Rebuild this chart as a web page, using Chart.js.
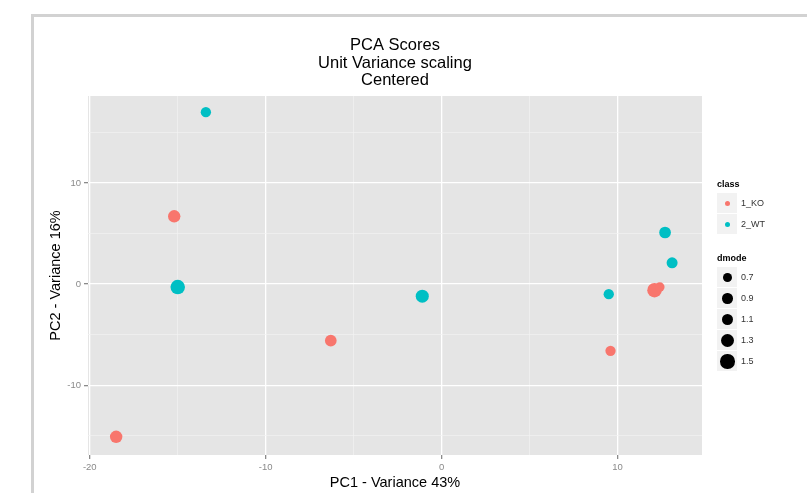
<!DOCTYPE html>
<html>
<head>
<meta charset="utf-8">
<script src="https://cdn.jsdelivr.net/npm/chart.js@4.4.0/dist/chart.umd.min.js"></script>
<style>
    body { margin: 0; background: #fff; font-family: "Liberation Sans", Arial, sans-serif; }
    #wrap { position: relative; width: 807px; height: 493px; overflow: hidden; }
    #frame { position: absolute; left: 31px; top: 14px; width: 800px; height: 500px;
             border-top: 3px solid #d2d2d2; border-left: 3px solid #d2d2d2; }
    canvas { position: absolute; left: 0; top: 0; }
    #legend { position: absolute; left: 717px; top: 179px; font-size: 9px; color: #333; }
    .ltitle { font-weight: bold; color: #000; height: 14px; }
    .item { position: relative; height: 21px; }
    .key { position: absolute; left: 0; top: 0; width: 20px; height: 20px; background: #f2f2f2; }
    .dot { position: absolute; border-radius: 50%; }
    .lab { position: absolute; left: 24px; top: 5px; }
</style>
</head>
<body>
<div id="wrap">
    <div id="frame"></div>
    <canvas id="pcaChart" width="807" height="493"></canvas>
    <div id="legend"></div>
</div>
<script>
// Datos
const classes = ["1_KO", "2_WT"];
const classColors = ["#F8766D", "#00BFC4"];

const koPC1 = [-18.5, -15.2, -6.3, 9.6, 12.1, 12.4];
const koPC2 = [-15.1, 6.7, -5.6, -6.6, -0.6, -0.3];
const koDmode = [1.2, 1.2, 1.1, 0.9, 1.5, 0.8];

const wtPC1 = [-13.4, -15.0, -1.1, 9.5, 12.7, 13.1];
const wtPC2 = [17.0, -0.3, -1.2, -1.0, 5.1, 2.1];
const wtDmode = [0.9, 1.5, 1.3, 0.9, 1.1, 1.0];

const dmodeBreaks = [0.7, 0.9, 1.1, 1.3, 1.5];
const xTickLabels = [-20, -10, 0, 10];
const yTickLabels = [-10, 0, 10];

function radio(d) { return 2 + 3.5 * d; }

function puntos(xs, ys) {
    return xs.map((x, i) => ({ x: x, y: ys[i] }));
}

// Fondo gris del panel
const panelBg = {
    id: "panelBg",
    beforeDraw(chart) {
        const { ctx, chartArea: a } = chart;
        ctx.save();
        ctx.fillStyle = "#e5e5e5";
        ctx.fillRect(a.left, a.top, a.right - a.left, a.bottom - a.top);
        ctx.restore();
    }
};

function gridColor(c) {
    return c.tick && c.tick.value % 10 === 0 ? "#ffffff" : "#f2f2f2";
}
function gridWidth(c) {
    return c.tick && c.tick.value % 10 === 0 ? 1.3 : 0.7;
}
function tickColor(c) {
    return c.tick && c.tick.value % 10 === 0 ? "#8a8a8a" : "rgba(0,0,0,0)";
}

const fuente = "'Liberation Sans', Arial, sans-serif";

new Chart(document.getElementById("pcaChart").getContext("2d"), {
    type: "scatter",
    data: {
        datasets: [{
            label: classes[0],
            data: puntos(koPC1, koPC2),
            backgroundColor: classColors[0],
            borderWidth: 0,
            pointRadius: c => radio(koDmode[c.dataIndex])
        }, {
            label: classes[1],
            data: puntos(wtPC1, wtPC2),
            backgroundColor: classColors[1],
            borderWidth: 0,
            pointRadius: c => radio(wtDmode[c.dataIndex])
        }]
    },
    plugins: [panelBg],
    options: {
        responsive: false,
        animation: false,
        layout: { padding: { left: 34, right: 105, top: 22, bottom: 1 } },
        plugins: {
            legend: { display: false },
            tooltip: { enabled: false },
            title: {
                display: true,
                fullSize: false,
                text: ["PCA Scores", "Unit Variance scaling", "Centered"],
                color: "#000",
                font: { family: fuente, size: 16.5, weight: "normal", lineHeight: 1.05 },
                padding: { top: 15, bottom: 7 }
            }
        },
        scales: {
            x: {
                min: -20.1,
                max: 14.8,
                border: { display: false },
                grid: { color: gridColor, lineWidth: gridWidth, tickColor: tickColor, tickLength: 4 },
                ticks: {
                    stepSize: 5,
                    includeBounds: false,
                    maxRotation: 0,
                    autoSkip: false,
                    padding: 3,
                    color: "#8a8a8a",
                    font: { family: fuente, size: 9.5 },
                    callback: v => xTickLabels.includes(v) ? String(v) : ""
                },
                title: {
                    display: true,
                    text: "PC1 - Variance 43%",
                    color: "#000",
                    font: { family: fuente, size: 14.5 },
                    padding: { top: 0, bottom: 0 }
                },
                afterFit: s => { s.height = 37; }
            },
            y: {
                min: -16.9,
                max: 18.6,
                border: { display: false },
                grid: { color: gridColor, lineWidth: gridWidth, tickColor: tickColor, tickLength: 4 },
                ticks: {
                    stepSize: 5,
                    includeBounds: false,
                    autoSkip: false,
                    padding: 3,
                    color: "#8a8a8a",
                    font: { family: fuente, size: 9.5 },
                    callback: v => yTickLabels.includes(v) ? String(v) : ""
                },
                title: {
                    display: true,
                    text: "PC2 - Variance 16%",
                    color: "#000",
                    font: { family: fuente, size: 14.5 },
                    padding: { top: 13, bottom: 0 }
                },
                afterFit: s => { s.width = 54; }
            }
        }
    }
});

// Leyenda estilo ggplot
const leyenda = document.getElementById("legend");
let html = '<div class="ltitle">class</div>';
classes.forEach((cl, i) => {
    html += '<div class="item"><div class="key"><div class="dot" style="left:8px;top:8px;width:5px;height:5px;background:' +
        classColors[i] + '"></div></div><div class="lab">' + cl + '</div></div>';
});
html += '<div style="height:18px"></div><div class="ltitle">dmode</div>';
dmodeBreaks.forEach(d => {
    const r = radio(d);
    html += '<div class="item"><div class="key" style="background:#f2f2f2"><div class="dot" style="left:' + (10.5 - r) + 'px;top:' +
        (10.5 - r) + 'px;width:' + (2 * r) + 'px;height:' + (2 * r) + 'px;background:#000"></div></div><div class="lab">' + d + '</div></div>';
});
leyenda.innerHTML = html;
</script>
</body>
</html>
